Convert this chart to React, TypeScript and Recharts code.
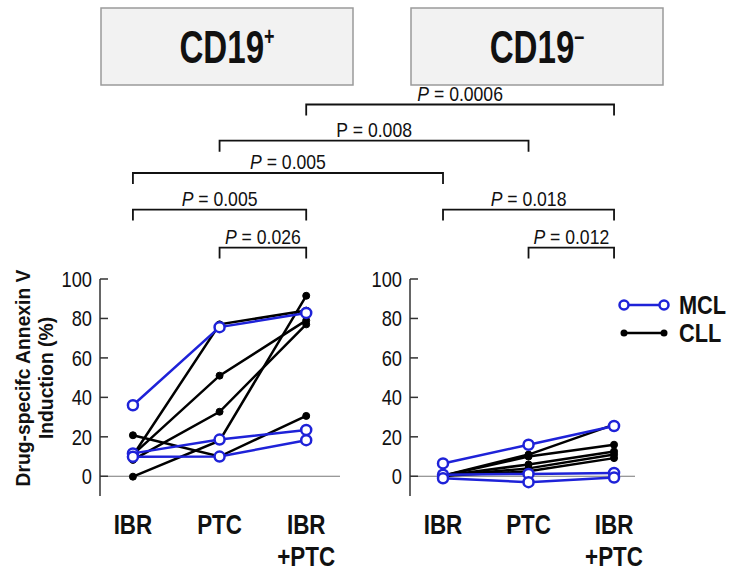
import React from 'react';
import { LineChart, Line, XAxis, YAxis, ReferenceLine } from 'recharts';

// ---------- data ----------
const categories = ['IBR', 'PTC', 'IBR+PTC'];
const categoryLabelLines = [['IBR'], ['PTC'], ['IBR', '+PTC']];
const yTicks = [0, 20, 40, 60, 80, 100];
const panelTitles = [
  { main: 'CD19', sup: '+' },
  { main: 'CD19', sup: '\u2013' },
];
const seriesNames = ['MCL', 'CLL'];

// CD19+ panel (values in %, per patient: IBR, PTC, IBR+PTC)
const cd19PosMCL = [
  [36, 75.6, 82.8],
  [11.6, 18.6, 23.5],
  [9.9, 10, 18.3],
];
const cd19PosCLL = [
  [10.5, 77, 84],
  [11, 51, 79],
  [8.3, 32.7, 77],
  [-0.2, 18, 91.5],
  [20.8, 10, 30.6],
];
// CD19- panel
const cd19NegMCL = [
  [6.5, 16, 25.5],
  [0.8, 1.2, 1.7],
  [-1, -3, -0.6],
];
const cd19NegCLL = [
  [0.3, 11, 26.2],
  [0.3, 10, 16],
  [0.3, 6, 12.6],
  [0.3, 4, 11],
  [0.3, 2.5, 9.2],
];

// significance brackets: [panel, categoryIndex]
const pLabels = ['0.0006', '0.008', '0.005', '0.005', '0.018', '0.026', '0.012'];
const pItalic = [true, false, true, true, true, true, true];
const pFrom = [[0, 2], [0, 1], [0, 0], [0, 0], [1, 0], [0, 1], [1, 1]];
const pTo = [[1, 2], [1, 1], [1, 0], [0, 2], [1, 2], [0, 2], [1, 2]];
const pLevel = [0, 1, 2, 3, 3, 4, 4];

// ---------- styles / layout ----------
const BLUE = '#1e22d8';
const BLACK = '#000000';
const SANS = '"Liberation Sans", Arial, sans-serif';
const NARROW_SCALE = 0.8;
const Y_AXIS_W = 100;
const CHART_TOP = 260;
const CHART_H = 317;
const MARGIN_TOP = 19;
const MARGIN_BOTTOM = 11;
const panels = [
  { left: 0, width: 360, marginRight: 20, domain: [-0.38, 2.39] as [number, number] },
  { left: 310, width: 427, marginRight: 102, domain: [-0.386, 2.245] as [number, number] },
];
const bracketLevelY = [104.5, 140.7, 173, 209.6, 247.6];
const LEG = 11;

const toPoints = (vals: number[]) => vals.map((v, i) => ({ x: i, y: v }));

const xPix = (panelIdx: number, cat: number) => {
  const p = panels[panelIdx];
  const plotW = p.width - Y_AXIS_W - p.marginRight;
  return p.left + Y_AXIS_W + ((cat - p.domain[0]) / (p.domain[1] - p.domain[0])) * plotW;
};

const XTick = (props: any) => {
  const { x, y, payload } = props;
  const lines = categoryLabelLines[payload.value] || [categories[payload.value]];
  return (
    <g transform={`translate(${x},${y}) scale(${NARROW_SCALE},1)`}>
      <text x={0} y={0} textAnchor="middle" fontFamily={SANS} fontWeight="bold" fontSize={28} fill="#111">
        {lines.map((l: string, i: number) => (
          <tspan key={i} x={0} dy={i === 0 ? 38 : 32}>
            {l}
          </tspan>
        ))}
      </text>
    </g>
  );
};

const YTick = (props: any) => {
  const { x, y, payload } = props;
  return (
    <g>
      <line x1={x + 8} x2={x + 16} y1={y} y2={y} stroke="#333" strokeWidth={1.5} />
      <g transform={`translate(${x},${y}) scale(0.83,1)`}>
        <text x={0} y={0} dy={8} textAnchor="end" fontFamily={SANS} fontSize={22} fill="#111">
          {payload.value}
        </text>
      </g>
    </g>
  );
};

const LegendBox = () => (
  <div
    style={{
      position: 'absolute',
      left: 618,
      top: 291,
      fontFamily: SANS,
      fontWeight: 'bold',
      fontSize: 25,
      color: '#111',
    }}
  >
    {seriesNames.map((name, i) => (
      <div key={name} style={{ display: 'flex', alignItems: 'center', height: 28 }}>
        <svg width={52} height={20} style={{ display: 'block' }}>
          <line x1={5} x2={47} y1={10} y2={10} stroke={i === 0 ? BLUE : BLACK} strokeWidth={2.5} />
          {i === 0 ? (
            <>
              <circle cx={6} cy={10} r={4.5} fill="#fff" stroke={BLUE} strokeWidth={2.5} />
              <circle cx={46} cy={10} r={4.5} fill="#fff" stroke={BLUE} strokeWidth={2.5} />
            </>
          ) : (
            <>
              <circle cx={6} cy={10} r={3.5} fill={BLACK} />
              <circle cx={46} cy={10} r={3.5} fill={BLACK} />
            </>
          )}
        </svg>
        <span
          style={{
            marginLeft: 9,
            lineHeight: '28px',
            display: 'inline-block',
            transform: 'scaleX(0.87)',
            transformOrigin: 'left center',
          }}
        >
          {name}
        </span>
      </div>
    ))}
  </div>
);

const Panel = ({ idx, mcl, cll }: { idx: number; mcl: number[][]; cll: number[][] }) => {
  const p = panels[idx];
  return (
    <div style={{ position: 'absolute', left: p.left, top: CHART_TOP }}>
      <LineChart
        width={p.width}
        height={CHART_H}
        margin={{ top: MARGIN_TOP, right: p.marginRight, bottom: MARGIN_BOTTOM, left: 0 }}
      >
        <XAxis
          type="number"
          dataKey="x"
          domain={p.domain}
          ticks={[0, 1, 2]}
          axisLine={false}
          tickLine={false}
          height={70}
          tickSize={0}
          tickMargin={0}
          tick={<XTick />}
          allowDataOverflow
        />
        <YAxis
          type="number"
          dataKey="y"
          domain={[-10, 100]}
          ticks={yTicks}
          width={Y_AXIS_W}
          tickSize={0}
          tickMargin={8}
          axisLine={{ stroke: '#333', strokeWidth: 1.5 }}
          tickLine={false}
          tick={<YTick />}
          allowDataOverflow
        />
        <ReferenceLine y={0} stroke="#777" strokeWidth={1.2} />
        {cll.map((vals, i) => (
          <Line
            key={'cll' + i}
            data={toPoints(vals)}
            dataKey="y"
            type="linear"
            stroke={BLACK}
            strokeWidth={2.5}
            dot={{ r: 3.5, fill: BLACK, stroke: BLACK, strokeWidth: 1 }}
            isAnimationActive={false}
          />
        ))}
        {mcl.map((vals, i) => (
          <Line
            key={'mcl' + i}
            data={toPoints(vals)}
            dataKey="y"
            type="linear"
            stroke={BLUE}
            strokeWidth={2.5}
            dot={{ r: 5, fill: '#fff', stroke: BLUE, strokeWidth: 2.5 }}
            isAnimationActive={false}
          />
        ))}
      </LineChart>
    </div>
  );
};

export default function App() {
  return (
    <div
      style={{
        position: 'absolute',
        left: 0,
        top: 0,
        width: 737,
        height: 577,
        background: '#fff',
        overflow: 'hidden',
      }}
    >
      <Panel idx={0} mcl={cd19PosMCL} cll={cd19PosCLL} />
      <Panel idx={1} mcl={cd19NegMCL} cll={cd19NegCLL} />
      <LegendBox />
      <svg
        width={737}
        height={577}
        style={{ position: 'absolute', left: 0, top: 0, pointerEvents: 'none' }}
      >
        {/* panel headers */}
        {panelTitles.map((t, i) => {
          const bx = i === 0 ? 101 : 411;
          return (
            <g key={i}>
              <rect x={bx} y={8} width={252} height={77} fill="#f2f2f2" stroke="#9a9a9a" strokeWidth={1.5} />
              <g transform={`translate(${bx + 126},63) scale(0.72,1)`}>
                <text x={0} y={0} textAnchor="middle" fontFamily={SANS} fontWeight="bold" fontSize={46} fill="#111">
                  {t.main}
                  <tspan dy={-18} fontSize={25}>
                    {t.sup}
                  </tspan>
                </text>
              </g>
            </g>
          );
        })}
        {/* y-axis title */}
        <g transform="translate(23,378) rotate(-90) scale(0.92,1)">
          <text x={0} y={0} textAnchor="middle" fontFamily={SANS} fontWeight="bold" fontSize={21} fill="#111">
            <tspan x={0} dy={7}>Drug-specifc Annexin V</tspan>
            <tspan x={0} dy={23}>Induction (%)</tspan>
          </text>
        </g>
        {/* significance brackets */}
        {pLabels.map((lab, i) => {
          const x1 = xPix(pFrom[i][0], pFrom[i][1]);
          const x2 = xPix(pTo[i][0], pTo[i][1]);
          const y = bracketLevelY[pLevel[i]];
          return (
            <g key={i}>
              <path
                d={`M${x1},${y + LEG} L${x1},${y} L${x2},${y} L${x2},${y + LEG}`}
                fill="none"
                stroke="#111"
                strokeWidth={1.8}
              />
              <g transform={`translate(${(x1 + x2) / 2},${y - 4}) scale(0.88,1)`}>
                <text x={0} y={0} textAnchor="middle" fontFamily={SANS} fontSize={20} fill="#111">
                  <tspan fontStyle={pItalic[i] ? 'italic' : 'normal'}>P</tspan>
                  {' = ' + lab}
                </text>
              </g>
            </g>
          );
        })}
      </svg>
    </div>
  );
}
